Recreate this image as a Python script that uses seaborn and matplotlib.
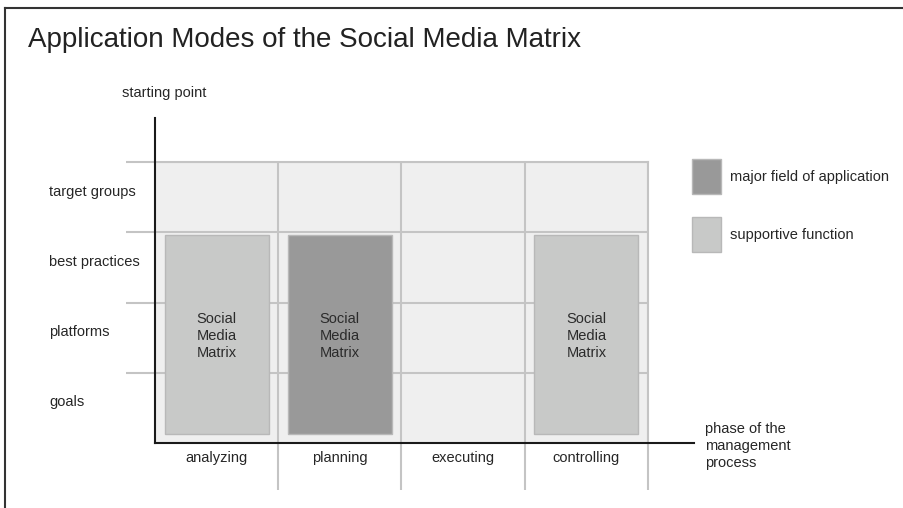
import pandas as pd
import matplotlib
matplotlib.use('Agg')
import matplotlib.pyplot as plt
from matplotlib.lines import Line2D
from matplotlib.patches import Patch
import seaborn as sns

# Matrix layout: columns are phases, rows are starting points (bottom to top)
phases = ['analyzing', 'planning', 'executing', 'controlling']
rows = ['goals', 'platforms', 'best practices', 'target groups']

# Where the Social Media Matrix is used
bar_phases = ['analyzing', 'planning', 'controlling']
bar_roles = ['supportive function', 'major field of application', 'supportive function']
bar_first_row = [0, 0, 0]   # goals
bar_last_row = [2, 2, 2]    # best practices

role_order = ['major field of application', 'supportive function']
role_colors = {'major field of application': '#999999', 'supportive function': '#c8c9c8'}

title = 'Application Modes of the Social Media Matrix'
y_title = 'starting point'
x_title = 'phase of the\nmanagement\nprocess'
bar_text = 'Social\nMedia\nMatrix'

plt.rcParams['font.family'] = ['Liberation Sans', 'DejaVu Sans']
plt.rcParams['text.color'] = '#262626'
plt.rcParams['xtick.color'] = '#c4c4c4'
plt.rcParams['ytick.color'] = '#c4c4c4'
plt.rcParams['xtick.labelcolor'] = '#262626'
plt.rcParams['ytick.labelcolor'] = '#262626'

W, H = 904, 508
fig = plt.figure(figsize=(W / 100, H / 100), dpi=100)
ax = fig.add_axes([155 / W, 1 - 443 / H, 493 / W, 281 / H])
ax.set_facecolor('#efefef')
ax.set_axisbelow(True)

pad_lo, pad_hi = 0.13, 0.04
df = pd.DataFrame({
    'phase': bar_phases,
    'role': bar_roles,
    'top': [r + 1 - pad_hi for r in bar_last_row],
})
bottom = bar_first_row[0] + pad_lo
df['height'] = df['top'] - bottom

edge = '#b8b8b8'
sns.barplot(data=df, x='phase', y='height', hue='role', order=phases,
            hue_order=role_order, palette=role_colors, width=0.845,
            bottom=bottom, edgecolor=edge, linewidth=1, errorbar=None,
            saturation=1, ax=ax, legend=False)

for p, h in zip(df['phase'], df['height']):
    ax.text(phases.index(p), bottom + h / 2 - 0.02, bar_text, ha='center', va='center',
            fontsize=10.5, color='#2b2b2b', linespacing=1.25)

ax.set_xlim(-0.5, len(phases) - 0.5)
ax.set_ylim(0, len(rows))
ax.set_xlabel('')
ax.set_ylabel('')

# major ticks carry labels, minor ticks/grid draw the matrix lines
ax.set_xticks(range(len(phases)), labels=phases)
ax.set_xticks([i + 0.5 for i in range(len(phases))], minor=True)
ax.set_yticks([i + 0.6 for i in range(len(rows))], labels=rows)
ax.set_yticks([i + 1 for i in range(len(rows))], minor=True)
for lab in ax.get_yticklabels():
    lab.set_ha('left')
ax.tick_params(axis='both', which='major', length=0, labelsize=10.5)
ax.tick_params(axis='x', which='major', pad=6)
ax.tick_params(axis='y', which='major', pad=76)
ax.tick_params(axis='x', which='minor', length=34, width=1.5, direction='out', bottom=True)
ax.tick_params(axis='y', which='minor', length=21, width=1.5, direction='out', left=True)
ax.grid(which='minor', color='#c4c4c4', linewidth=1.5)
ax.grid(which='major', visible=False)

for s in ['top', 'right']:
    ax.spines[s].set_color('#c4c4c4')
    ax.spines[s].set_linewidth(1.5)
for s in ['left', 'bottom']:
    ax.spines[s].set_color('#1a1a1a')
    ax.spines[s].set_linewidth(1.5)
    ax.spines[s].set_zorder(5)
ax.spines['left'].set_bounds(0, 4.63)
ax.spines['bottom'].set_bounds(-0.5, 3.873)

handles = [Patch(facecolor=role_colors[r], edgecolor=edge, linewidth=1) for r in role_order]
ax.legend(handles, role_order, loc='upper left', bbox_to_anchor=(692 / W, 1 - 159 / H),
          bbox_transform=fig.transFigure, frameon=False, borderpad=0, borderaxespad=0,
          handlelength=2.0, handleheight=3.32, labelspacing=1.58, handletextpad=0.6,
          fontsize=10.5)

fig.text(28 / W, 1 - 40 / H, title, fontsize=20, va='center', ha='left', color='#222222')
fig.text(122 / W, 1 - 93 / H, y_title, fontsize=10.5, va='center', ha='left')
fig.text(705 / W, 1 - 446 / H, x_title, fontsize=10.5, va='center', ha='left', linespacing=1.25)

# outer frame (top and left edges)
fig.add_artist(Line2D([5 / W, 1], [1 - 8 / H, 1 - 8 / H], transform=fig.transFigure,
                      color='#333333', lw=1.5))
fig.add_artist(Line2D([5 / W, 5 / W], [1 - 8 / H, 0], transform=fig.transFigure,
                      color='#333333', lw=1.5))

fig.savefig('out.png', dpi=100)
